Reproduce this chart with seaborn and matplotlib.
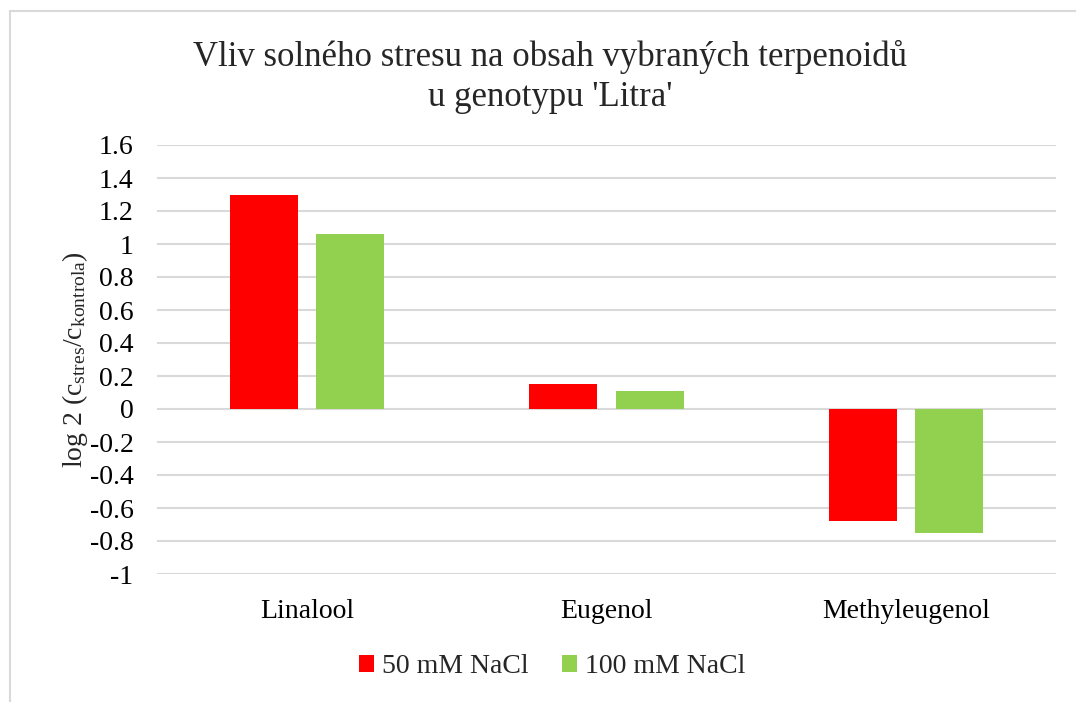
import matplotlib
matplotlib.use('Agg')
import matplotlib.pyplot as plt
import seaborn as sns
import pandas as pd
from matplotlib.patches import Rectangle

# Data
latky = ['Linalool', 'Eugenol', 'Methyleugenol']
nacl_50 = [1.30, 0.15, -0.68]
nacl_100 = [1.06, 0.11, -0.75]
serie = ['50 mM NaCl', '100 mM NaCl']
barvy = ['#ff0000', '#92d050']
y_ticks = [-1, -0.8, -0.6, -0.4, -0.2, 0, 0.2, 0.4, 0.6, 0.8, 1, 1.2, 1.4, 1.6]

df = pd.DataFrame({
    'latka': latky * 2,
    'hodnota': nacl_50 + nacl_100,
    'serie': [serie[0]] * 3 + [serie[1]] * 3,
})

sns.set_style('white')
plt.rcParams['font.family'] = ['Liberation Serif', 'DejaVu Serif']
plt.rcParams['mathtext.fontset'] = 'custom'
plt.rcParams['mathtext.rm'] = 'Liberation Serif'
plt.rcParams['mathtext.it'] = 'Liberation Serif:italic'

fig = plt.figure(figsize=(10.76, 7.02), dpi=100)
ax = fig.add_axes([157 / 1076, 128 / 702, 899 / 1076, 429 / 702])

sns.barplot(data=df, x='latka', y='hodnota', hue='serie', hue_order=serie,
            palette=barvy, width=0.575, gap=0.21, saturation=1, ax=ax,
            edgecolor='none', legend=True)

ax.set_xlim(-0.5, 2.5)
ax.set_ylim(-1, 1.6)
ax.set_yticks(y_ticks)
ax.set_yticklabels([f'{t:g}' for t in y_ticks])
ax.yaxis.grid(True, color='#d9d9d9', linewidth=1.5)
ax.set_axisbelow(True)
for s in ax.spines.values():
    s.set_visible(False)
ax.tick_params(axis='both', length=0, labelsize=20, colors='#000000')
ax.tick_params(axis='x', pad=18)
ax.tick_params(axis='y', pad=17)
ax.set_xlabel('')
ax.set_ylabel(r'log 2 (c$_{\mathrm{stres}}$/c$_{\mathrm{kontrola}}$)', fontsize=20, labelpad=0)

ax.set_title("Vliv solného stresu na obsah vybraných terpenoidů\nu genotypu 'Litra'",
             fontsize=25, pad=28, linespacing=1.3, x=0.437)

ax.legend_.remove()
handles, labels = ax.get_legend_handles_labels()
fig.legend(handles, labels, loc='center', bbox_to_anchor=(552 / 1076, 0.05), ncol=2,
           frameon=False, fontsize=20, handlelength=0.55, handleheight=0.55,
           handletextpad=0.28, columnspacing=1.2)

# outer chart frame (cut off at right and bottom)
fig.patches.append(Rectangle((10 / 1076, -0.1), 1.2, 1 - 11 / 702 + 0.1,
                             transform=fig.transFigure, fill=False,
                             edgecolor='#d9d9d9', linewidth=1.5))

fig.savefig('out.png', dpi=100)
